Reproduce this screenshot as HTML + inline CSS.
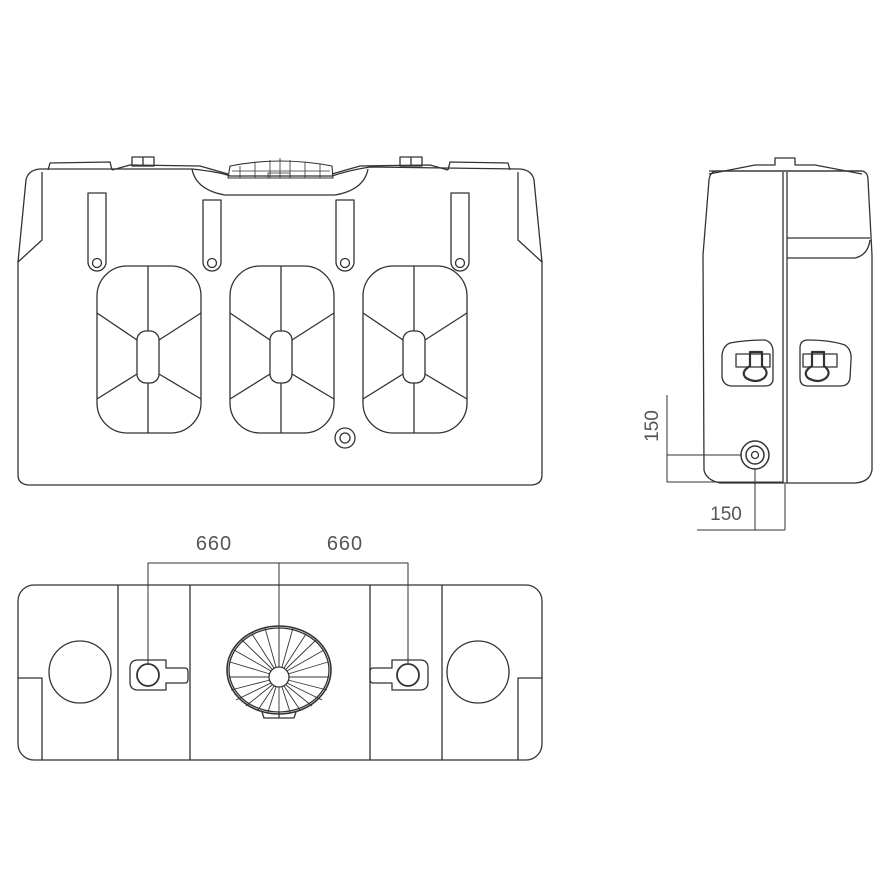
<!DOCTYPE html>
<html><head><meta charset="utf-8"><style>html,body{margin:0;padding:0;background:#fff}svg{display:block}</style></head>
<body>
<svg width="880" height="880" viewBox="0 0 880 880" xmlns="http://www.w3.org/2000/svg" fill="none" stroke="#333" stroke-width="1.3" stroke-linejoin="round">
<!-- FRONT VIEW -->
<path d="M18,262 L26,180 Q28,170 40,169 L192,169 Q220,172 230,176 L332,176 Q350,170 370,167 L520,169 Q532,170 534,180 L542,262 L542,475 Q542,485 530,485 L30,485 Q18,485 18,475 Z"/>
<path d="M42,172 L42,240 L18,262"/>
<path d="M518,172 L518,240 L542,262"/>
<path d="M48,170 L50,163 L110,162 L112,170"/>
<path d="M448,170 L450,162 L508,163 L510,170"/>
<path d="M112,170 L130,165 L200,166 L228,174"/>
<path d="M332,174 L360,166 L430,165 L448,170"/>
<rect x="132" y="157" width="22" height="9"/><line x1="143" y1="157" x2="143" y2="166"/>
<rect x="400" y="157" width="22" height="9"/><line x1="411" y1="157" x2="411" y2="166"/>
<path d="M192,169 Q196,190 225,195 L335,195 Q364,190 368,169"/>
<path d="M228,178 L230,166 Q280,156 332,166 L333,178 Z" stroke-width="1.1"/>
<path d="M232,171 L330,171 M240,166 L240,178 M255,162 L255,178 M270,160 L270,178 M280,158 L280,178 M290,160 L290,178 M305,162 L305,178 M320,164 L320,178" stroke-width="0.8"/>
<rect x="268" y="173" width="22" height="5" stroke-width="0.8"/>
<!-- slots -->
<g>
<path d="M88,193 L106,193 L106,262 A9,9 0 0 1 88,262 Z"/><circle cx="97" cy="263" r="4.5"/>
<path d="M203,200 L221,200 L221,262 A9,9 0 0 1 203,262 Z"/><circle cx="212" cy="263" r="4.5"/>
<path d="M336,200 L354,200 L354,262 A9,9 0 0 1 336,262 Z"/><circle cx="345" cy="263" r="4.5"/>
<path d="M451,193 L469,193 L469,262 A9,9 0 0 1 451,262 Z"/><circle cx="460" cy="263" r="4.5"/>
</g>
<!-- panels -->
<g id="p1">
<rect x="97" y="266" width="104" height="167" rx="30"/>
<rect x="137" y="331" width="22" height="52" rx="9"/>
<path d="M148,266 L148,331 M148,383 L148,433 M137,340 L97,313 M159,340 L201,313 M137,374 L97,399 M159,374 L201,399"/>
</g>
<use href="#p1" x="133"/>
<use href="#p1" x="266"/>
<circle cx="345" cy="438" r="10"/><circle cx="345" cy="438" r="5"/>

<!-- SIDE VIEW -->
<path d="M703,255 L709,180 Q710,172 716,171 L862,171 Q868,172 868,180 L872,255 L872,470 Q870,482 855,483 L720,483 Q706,480 704,470 Z"/>
<path d="M709,174 L755,165 L775,165 L775,158 L795,158 L795,165 L815,165 L862,174"/>
<line x1="709" y1="171" x2="862" y2="171"/>
<line x1="783" y1="172" x2="783" y2="483"/><line x1="787" y1="172" x2="787" y2="483"/>
<line x1="787" y1="238" x2="870" y2="238"/>
<path d="M787,258 L855,258 Q868,255 870,240"/>
<path d="M730,343 Q745,340 765,340 Q772,342 773,350 L773,380 Q772,386 765,386 L731,386 Q723,385 722,377 L722,355 Q723,346 730,343 Z"/>
<path d="M808,340 Q830,340 845,345 Q852,350 851,360 L850,378 Q849,386 840,386 L808,386 Q800,386 800,378 L800,348 Q800,340 808,340 Z"/>
<rect x="736" y="354" width="34" height="13"/>
<rect x="803" y="354" width="34" height="13"/>
<path d="M750,352 L762,352 L762,366 Q770,372 764,378 Q756,384 746,378 Q740,372 750,366 Z" stroke-width="2.2"/>
<path d="M812,352 L824,352 L824,366 Q832,372 826,378 Q818,384 808,378 Q802,372 812,366 Z" stroke-width="2.2"/>
<circle cx="755" cy="455" r="14" stroke-width="1.5"/><circle cx="755" cy="455" r="9" stroke-width="1.5"/><circle cx="755" cy="455" r="3.5"/>
<!-- dims -->
<path d="M667,395 L667,482 L783,482 M667,455 L741,455 M755,469 L755,530 M785,484 L785,530 M697,530 L785,530" stroke-width="1"/>
<text x="0" y="0" transform="translate(658,426) rotate(-90)" text-anchor="middle" font-family="Liberation Sans, sans-serif" font-size="19" fill="#555" stroke="none">150</text>
<text x="726" y="520" text-anchor="middle" font-family="Liberation Sans, sans-serif" font-size="19" fill="#555" stroke="none">150</text>

<!-- BOTTOM VIEW -->
<rect x="18" y="585" width="524" height="175" rx="16"/>
<path d="M118,585 L118,760 M190,585 L190,760 M370,585 L370,760 M442,585 L442,760"/>
<path d="M18,678 L42,678 L42,760 M542,678 L518,678 L518,760"/>
<circle cx="80" cy="672" r="31"/><circle cx="478" cy="672" r="31"/>
<path d="M138,660 L166,660 L166,668 L185,668 Q188,668 188,672 L188,679 Q188,683 185,683 L166,683 L166,690 L138,690 Q130,690 130,682 L130,668 Q130,660 138,660 Z"/>
<circle cx="148" cy="675" r="11" stroke-width="1.8"/>
<path d="M420,660 L392,660 L392,668 L373,668 Q370,668 370,672 L370,679 Q370,683 373,683 L392,683 L392,690 L420,690 Q428,690 428,682 L428,668 Q428,660 420,660 Z"/>
<circle cx="408" cy="675" r="11" stroke-width="1.8"/>
<ellipse cx="279" cy="670" rx="52" ry="44" stroke-width="1.6"/>
<ellipse cx="279" cy="670" rx="50" ry="42"/>
<circle cx="279" cy="677" r="10"/>
<g stroke-width="0.9">
<path d="M279,667 L279,626 M279,687 L279,712 M269,677 L229,677 M289,677 L329,677
M271,671 L234,650 M287,671 L324,650 M271,683 L236,700 M287,683 L322,700
M274,668 L252,634 M284,668 L306,634 M274,686 L258,710 M284,686 L300,710
M276,667 L265,628 M282,667 L293,628 M270,674 L230,662 M288,674 L328,662
M270,680 L231,690 M288,680 L327,690 M276,687 L268,712 M282,687 L290,712
M272,669 L242,640 M286,669 L316,640 M272,685 L246,706 M286,685 L312,706"/>
</g>
<path d="M262,712 L264,718 L294,718 L296,712" />
<line x1="279" y1="712" x2="279" y2="718"/>
<!-- dims -->
<path d="M148,664 L148,563 L408,563 L408,664 M279,563 L279,667" stroke-width="1"/>
<text x="214" y="550" text-anchor="middle" font-family="Liberation Sans, sans-serif" font-size="20" fill="#555" stroke="none" letter-spacing="1">660</text>
<text x="345" y="550" text-anchor="middle" font-family="Liberation Sans, sans-serif" font-size="20" fill="#555" stroke="none" letter-spacing="1">660</text>
</svg>
</body></html>
